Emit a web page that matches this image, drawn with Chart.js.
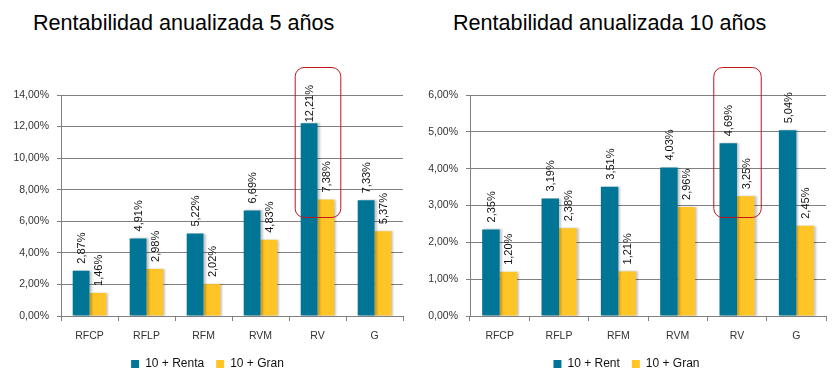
<!DOCTYPE html>
<html>
<head>
<meta charset="utf-8">
<script src="https://cdn.jsdelivr.net/npm/chart.js@4"></script>
<style>
	body { margin: 0; background: #fff; }
	#wrap { position: relative; width: 838px; height: 380px; overflow: hidden; }
	.title {
		position: absolute; top: 10px;
		font-family: "Liberation Sans", Arial, sans-serif;
		font-size: 21.6px; color: #000; white-space: nowrap;
	}
	canvas { position: absolute; top: 0; }
</style>
</head>
<body>
<div id="wrap">
	<div class="title" style="left:33px">Rentabilidad anualizada 5 años</div>
	<div class="title" style="left:453px">Rentabilidad anualizada 10 años</div>
	<canvas id="c5" style="left:0" width="415" height="380"></canvas>
	<canvas id="c10" style="left:415px" width="423" height="380"></canvas>
</div>
<script>
const categories = ["RFCP", "RFLP", "RFM", "RVM", "RV", "G"];

const renta5 = [2.87, 4.91, 5.22, 6.69, 12.21, 7.33];
const gran5 = [1.46, 2.98, 2.02, 4.83, 7.38, 5.37];

const renta10 = [2.35, 3.19, 3.51, 4.03, 4.69, 5.04];
const gran10 = [1.20, 2.38, 1.21, 2.96, 3.25, 2.45];

const teal = "#007596";
const yellow = "#FFC425";
const gridColor = "#808080";
const font = "'Liberation Sans', Arial, sans-serif";

function pct(v) {
	return v.toFixed(2).replace(".", ",") + "%";
}

// shadow on the bars, like the Excel original
const shadowPlugin = {
	id: "barShadow",
	beforeDatasetsDraw(chart) {
		const ctx = chart.ctx;
		ctx.save();
		ctx.shadowColor = "rgba(0,0,0,0.22)";
		ctx.shadowOffsetX = 2;
		ctx.shadowOffsetY = 0;
		ctx.shadowBlur = 2;
	},
	afterDatasetsDraw(chart) {
		chart.ctx.restore();
	}
};

// rotated value labels + red highlight box on RV
const labelPlugin = {
	id: "valueLabels",
	afterDatasetsDraw(chart) {
		const ctx = chart.ctx;
		const area = chart.chartArea;
		ctx.save();
		ctx.font = "11px " + font;
		ctx.fillStyle = "#111";
		ctx.textAlign = "left";
		ctx.textBaseline = "middle";
		chart.data.datasets.forEach((ds, i) => {
			chart.getDatasetMeta(i).data.forEach((bar, j) => {
				const text = pct(ds.data[j]);
				const w = ctx.measureText(text).width;
				let y = bar.y - 7;
				if (y - w < area.top - 10) y = area.top - 10 + w;
				ctx.save();
				ctx.translate(bar.x + 1, y);
				ctx.rotate(-Math.PI / 2);
				ctx.fillText(text, 0, 0);
				ctx.restore();
			});
		});

		const x = chart.scales.x;
		const step = x.width / categories.length;
		const cx = x.getPixelForValue(categories.indexOf("RV"));
		const bw = step * 0.8;
		ctx.strokeStyle = "#C0141E";
		ctx.lineWidth = 1;
		ctx.beginPath();
		ctx.roundRect(cx - bw / 2 + 0.5, area.top - 28 + 0.5, bw, 150, 9);
		ctx.stroke();
		ctx.restore();
	}
};

function makeChart(id, renta, gran, names, max, step, yWidth) {
	return new Chart(document.getElementById(id), {
		type: "bar",
		data: {
			labels: categories,
			datasets: [
				{ label: names[0], data: renta, backgroundColor: teal },
				{ label: names[1], data: gran, backgroundColor: yellow }
			]
		},
		options: {
			responsive: false,
			animation: false,
			layout: { padding: { top: 95, left: 0, right: 0, bottom: 0 } },
			datasets: {
				bar: { barPercentage: 1, categoryPercentage: 0.59 }
			},
			scales: {
				x: {
					grid: {
						display: true, offset: true, drawOnChartArea: false,
						drawTicks: true, tickLength: 5, color: gridColor
					},
					border: { display: true, color: gridColor },
					ticks: { color: "#333", font: { family: font, size: 10.5 }, padding: 9 },
					afterFit: s => { s.height = 30; }
				},
				y: {
					min: 0,
					max: max,
					ticks: {
						stepSize: step,
						color: "#333",
						padding: 8,
						font: { family: font, size: 10.5 },
						callback: v => pct(v)
					},
					grid: { color: gridColor, tickLength: 4 },
					border: { display: true, color: gridColor },
					afterFit: s => { s.width = yWidth; }
				},
				pad: {
					position: "right",
					display: true,
					grid: { display: false },
					border: { display: false },
					ticks: { display: false },
					afterFit: s => { s.width = 12; }
				}
			},
			plugins: {
				legend: {
					position: "bottom",
					labels: {
						boxWidth: 8,
						boxHeight: 8,
						padding: 12,
						color: "#111",
						font: { family: font, size: 12 }
					}
				},
				tooltip: { enabled: false }
			}
		},
		plugins: [shadowPlugin, labelPlugin]
	});
}

makeChart("c5", renta5, gran5, ["10 + Renta", "10 + Gran"], 14, 2, 61);
makeChart("c10", renta10, gran10, ["10 + Rent", "10 + Gran"], 6, 1, 55);
</script>
</body>
</html>
